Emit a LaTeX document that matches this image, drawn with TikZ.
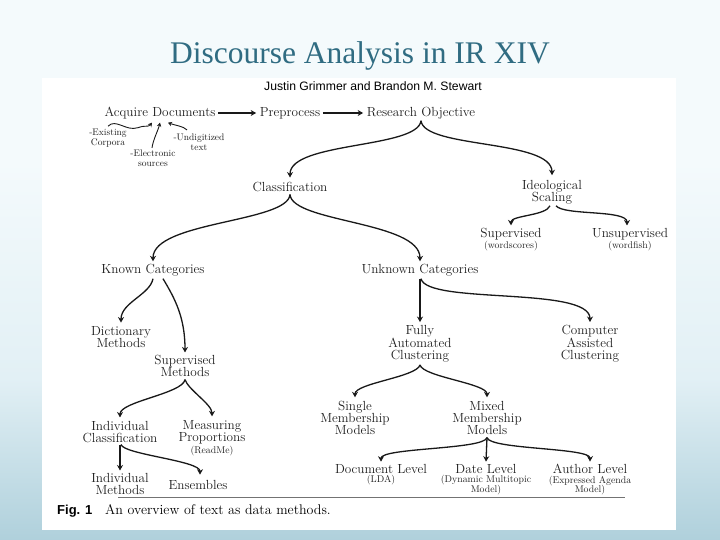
\documentclass[tikz,border=0pt]{standalone}
\usepackage{fontspec}
\newfontfamily\titlefont{Liberation Serif}
\newfontfamily\hfont{Liberation Sans}
\usetikzlibrary{arrows.meta,calc}
\definecolor{bgtop}{RGB}{244,250,252}
\definecolor{bgmid}{RGB}{226,240,245}
\definecolor{bgbot}{RGB}{108,166,186}
\definecolor{titleblue}{RGB}{48,108,130}
\pgfdeclareverticalshading{bgshade}{100bp}{color(0bp)=(bgbot); color(12bp)=(bgbot!80!bgmid); color(40bp)=(bgmid); color(60bp)=(bgtop); color(100bp)=(bgtop)}
\begin{document}
\begin{tikzpicture}[x=1pt,y=1pt,
  lbl/.style={font=\fontsize{13.2}{12.3}\selectfont, align=center, inner sep=0.5pt, text=black!88},
  sml/.style={font=\fontsize{9.8}{9.8}\selectfont, align=center, inner sep=0.5pt, text=black!85},
  ann/.style={font=\fontsize{9.5}{10}\selectfont, align=center, inner sep=0.5pt, text=black!88},
  arr/.style={line width=1.3pt, black!90, -{Stealth[length=5.5pt,width=6pt]}},
  tarr/.style={line width=0.9pt, black!90, -{Stealth[length=4pt,width=4.5pt]}},
]
\useasboundingbox (0,0) rectangle (720,-540);
\shade[shading=bgshade] (0,0) rectangle (720,-540);
\fill[white] (42,-78) rectangle (676,-530);

\node[anchor=base, font=\titlefont\fontsize{31.5}{31.5}\selectfont, text=titleblue] (title) at (360,-64) {Discourse Analysis in IR XIV};

\node[anchor=base, font=\hfont\fontsize{12.2}{12.2}\selectfont, inner sep=0pt] (hdr) at (373,-91) {Justin Grimmer and Brandon M. Stewart};

% top row
\node[lbl] (acq) at (160,-113) {Acquire Documents};
\node[lbl] (pre) at (290,-113) {Preprocess};
\node[lbl] (ro) at (421,-113) {Research Objective};
\draw[arr, shorten <=2pt, shorten >=3pt] (acq) -- (pre);
\draw[arr, shorten <=2pt, shorten >=3pt] (pre) -- (ro);

\node[ann] (exist) at (108,-138) {-Existing\\Corpora};
\node[ann] (elec) at (153,-158) {-Electronic\\sources};
\node[ann] (undig) at (199,-142) {-Undigitized\\text};
\draw[tarr] ($(exist.north)+(0,2)$) .. controls +(8,8) and +(-12,-4) .. ($(acq.south)+(-22,-8)$) .. controls +(8,3) and +(-4,-5) .. ($(acq.south)+(-8,-3)$);
\draw[tarr] ($(elec.north)+(-1,1)$) .. controls +(1,8) and +(-2,-8) .. ($(acq.south)+(0,-3)$);
\draw[tarr] ($(undig.north)+(-12,3)$) .. controls +(-4,4) and +(8,-3) .. ($(acq.south)+(8,-3)$);

% research objective
\node[lbl] (cls) at (290,-187) {Classification};
\node[lbl] (ideo) at (552,-192) {Ideological\\Scaling};
\draw[arr] ($(ro.south)+(0,-1)$) .. controls +(-3,-28) and +(0,36) .. ($(cls.north)+(0,4)$);
\draw[arr] ($(ro.south)+(0,-1)$) .. controls +(3,-28) and +(0,36) .. ($(ideo.north)+(0,4)$);

\node[lbl] (sup) at (511,-234) {Supervised};
\node[sml, anchor=north] (supw) at ($(sup.south)+(0,0)$) {(wordscores)};
\node[lbl] (unsup) at (630,-234) {Unsupervised};
\node[sml, anchor=north] (unsupw) at ($(unsup.south)+(0,0)$) {(wordfish)};
\draw[arr] ($(ideo.south)+(-2,-1)$) .. controls +(-4,-10) and +(0,10) .. ($(sup.north)+(0,2)$);
\draw[arr] ($(ideo.south)+(4,-1)$) .. controls +(8,-10) and +(0,16) .. ($(unsup.north)+(-3,2)$);

% classification
\node[lbl] (known) at (153,-270) {Known Categories};
\node[lbl] (unk) at (420,-270) {Unknown Categories};
\draw[arr] ($(cls.south)+(0,-2)$) .. controls +(-2,-28) and +(0,40) .. ($(known.north)+(0,2)$);
\draw[arr] ($(cls.south)+(0,-2)$) .. controls +(2,-28) and +(0,40) .. ($(unk.north)+(0,2)$);

% known
\node[lbl] (dict) at (121,-337) {Dictionary\\Methods};
\node[lbl] (supm) at (185,-366) {Supervised\\Methods};
\draw[arr] ($(known.south)+(0,-2)$) .. controls +(-3,-16) and +(0,20) .. ($(dict.north)+(0,3)$);
\draw[arr] ($(known.south)+(10,-2)$) .. controls +(12,-20) and +(0,35) .. ($(supm.north)+(0,2)$);

\node[lbl] (indc) at (120,-432) {Individual\\Classification};
\node[lbl] (meas) at (212,-432) {Measuring\\Proportions};
\node[sml, anchor=north] (measr) at ($(meas.south)+(0,-0.5)$) {(ReadMe)};
\draw[arr] ($(supm.south)+(0,-2)$) .. controls +(-2,-14) and +(0,16) .. ($(indc.north)+(0,3)$);
\draw[arr] ($(supm.south)+(0,-2)$) .. controls +(3,-10) and +(0,12) .. ($(meas.north)+(0,3)$);

\node[lbl] (indm) at (120,-484) {Individual\\Methods};
\node[lbl] (ens) at (198,-485) {Ensembles};
\draw[arr] ($(indc.south)+(0,-1)$) -- ($(indm.north)+(0,2)$);
\draw[arr] ($(indc.south)+(1,-1)$) .. controls +(3,-10) and +(0,14) .. ($(ens.north)+(2,5)$);

% unknown
\node[lbl] (fully) at (420,-344) {Fully\\Automated\\Clustering};
\node[lbl] (comp) at (590,-344) {Computer\\Assisted\\Clustering};
\draw[arr] ($(unk.south)+(0,-2)$) -- ($(fully.north)+(0,3)$);
\draw[arr] ($(unk.south)+(1,-2)$) .. controls +(6,-26) and +(0,36) .. ($(comp.north)+(0,3)$);

\node[lbl] (single) at (355,-418) {Single\\Membership\\Models};
\node[lbl] (mixed) at (487,-418) {Mixed\\Membership\\Models};
\draw[arr] ($(fully.south)+(0,-2)$) .. controls +(-3,-12) and +(0,14) .. ($(single.north)+(0,3)$);
\draw[arr] ($(fully.south)+(0,-2)$) .. controls +(3,-12) and +(0,14) .. ($(mixed.north)+(0,3)$);

\node[lbl] (doc) at (381,-469) {Document Level};
\node[sml, anchor=north] (docs) at ($(doc.south)+(0,-0.5)$) {(LDA)};
\node[lbl] (date) at (486,-469) {Date Level};
\node[sml, anchor=north] (dates) at ($(date.south)+(0,-0.5)$) {(Dynamic Multitopic\\Model)};
\node[lbl] (auth) at (590,-469) {Author Level};
\node[sml, anchor=north] (auths) at ($(auth.south)+(0,-0.5)$) {(Expressed Agenda\\Model)};
\draw[arr] ($(mixed.south)+(0,-2)$) .. controls +(-3,-12) and +(0,14) .. ($(doc.north)+(0,2)$);
\draw[arr] ($(mixed.south)+(0,-2)$) -- ($(date.north)+(0,2)$);
\draw[arr] ($(mixed.south)+(0,-2)$) .. controls +(3,-12) and +(0,14) .. ($(auth.north)+(0,2)$);

% rule and caption
\coordinate (rl) at (118,-497);
\coordinate (rr) at (625,-497);
\draw[black!55, line width=0.7pt] (rl) -- (rr);
\node[anchor=base west, inner sep=0pt, font=\hfont\bfseries\fontsize{13}{13}\selectfont] (fig) at (57,-514) {Fig. 1};
\node[anchor=base west, inner sep=0pt, font=\fontsize{14}{14}\selectfont] (cap) at (105,-514) {An overview of text as data methods.};
\end{tikzpicture}
\end{document}
